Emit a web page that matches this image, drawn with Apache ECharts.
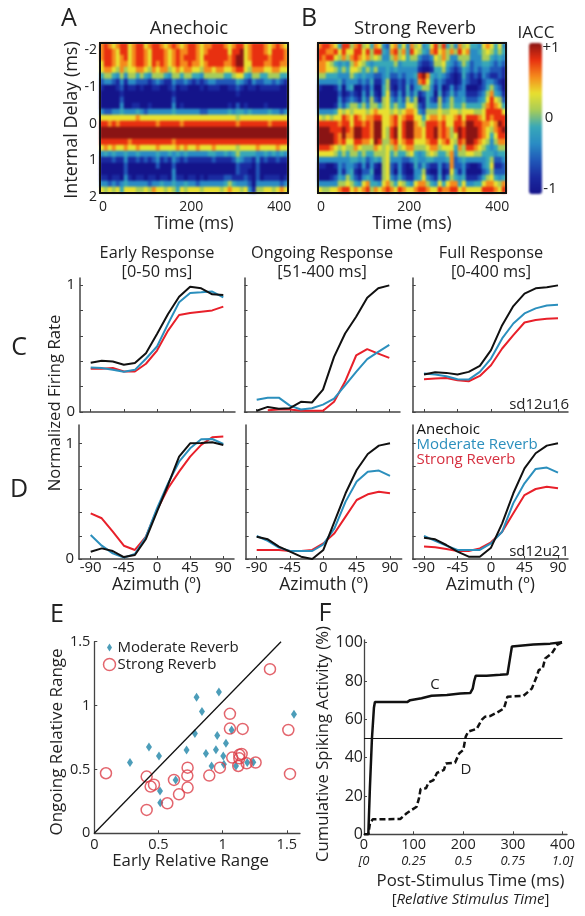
<!DOCTYPE html>
<html><head><meta charset="utf-8">
<script src="https://cdn.jsdelivr.net/npm/echarts@6/dist/echarts.min.js"></script>
<style>
html,body{margin:0;padding:0;background:#fff;width:585px;height:916px;overflow:hidden}
#heat,#main{position:absolute;left:0;top:0;width:585px;height:916px}
#heat{filter:blur(0.9px)}
</style></head><body>
<div id="heat"></div><div id="main"></div>
<script>
// ---------- DATA ----------
// Anechoic heat map: one string per internal-delay row (top to bottom), one digit per time bin; 0 = -1 ... 9 = +1
const anechoicRows = [
"7876788678 8678876787 6788767788 8767886788 8767876",
"7887688678 8768887678 7788767888 8868896788 8768887",
"7887678678 8768887678 7888768888 8878996788 8878887",
"6887677678 8768787678 7787767888 8778996688 8778877",
"6776575667 7657677567 6776657767 7667886577 7667766",
"4554353554 5435554355 4554435555 5445664355 4455544",
"2332131332 2212321132 2321212332 2222432132 2332321",
"1000120110 1001100120 1100010111 0011210110 1111100",
"0000010000 0000000010 0000000000 0000100000 0000000",
"0000020000 0000000020 0000000000 0000000000 0000000",
"0000030011 0010000030 1000000000 0010201000 0100000",
"3223343334 3233333343 3333322333 3343443433 3343323",
"6666666667 6666666666 6666666666 6666566666 6666666",
"8878788888 8888788888 7888888888 8888788888 8878888",
"9999999999 9999999999 9999999999 9999999999 9999999",
"9999999999 9999999999 9999999999 9999999999 9999999",
"8888888788 8888888878 8888888888 8888888888 8888888",
"6767667667 6666766667 6766766676 6666566667 6666766",
"3434334334 3333433434 3433333443 3434544443 3434343",
"1112113112 1212312132 1211111121 1112432213 1211211",
"0000002000 0000200020 0000000000 0000211102 0000000",
"0000002000 0000000030 0000000000 0000211002 0000000",
"1101103101 1011011031 1011010111 1221112102 0111101",
"3323234333 3323343343 3433233333 3454333203 3333323",
"6565646665 5657665654 6566656666 5676656315 5665676"
];
// Strong-reverb heat map: one string per time bin (left to right), one digit per delay row (top to bottom)
const strongReverbColumns = [
"78877 53100 03689 99863 10036","88777 53000 03589 99863 10035","87866 43000 03689 99863 00035",
"77856 43000 03588 99763 00136","68645 43100 14688 88653 10236","46534 34323 46678 77543 33457",
"88745 32001 25889 98653 21358","86534 33312 46788 76543 33568","56756 53423 55667 76554 34456",
"78876 43012 56889 98754 21247","88765 32001 46789 98643 10136","56654 43234 56678 87554 32367",
"68745 32112 35788 87542 12478","45534 34345 56777 76543 34345","78645 21012 57899 99754 10147",
"68543 21001 46899 98653 00136","34343 33445 56666 65555 55567","23344 45566 66665 55666 66678",
"67543 21123 45778 87543 22357","78754 21012 56889 98753 10246","45533 32234 45666 66543 33468",
"67643 21112 36788 87642 11257","34443 33445 67899 98752 00146","78543 32123 67899 98763 10136",
"56543 43345 56677 76544 43367","65321 87410 23667 76533 23478","34210 98521 12456 66543 45678",
"43210 76544 45688 87654 21357","67321 44332 35788 88764 10246","88654 32101 35789 98753 10136",
"56554 43345 56677 76543 33468","87765 32012 35788 87643 10147","45543 21123 45667 78654 21367",
"57332 11345 56665 56677 76578","35321 00123 46788 65432 23478","78532 11233 45889 98753 21346",
"56554 43334 56678 87554 33467","67543 22012 46899 99863 10136","43322 11012 46899 99863 00136",
"43333 21012 45889 98753 00146","34332 10123 45788 87653 10246","65543 32234 56677 76543 32468",
"76543 23456 78876 65444 43578","65432 13578 88765 43345 65678","44322 12346 78877 65432 12467",
"65432 21235 68898 87542 12356","34321 10012 46889 87543 22478"
];
const iaccColors = ['#14148a','#1a2aa0','#2058b8','#2a8cc4','#38a8b8','#a8cc58','#e8e030','#f58a1c','#e83010','#8a1414'];

const azimuth = [-90,-75,-60,-45,-30,-15,0,15,30,45,60,75,90];
const c1Anechoic = [.387,.403,.398,.372,.385,.463,.615,.772,.908,.987,.974,.927,.921];
const c1Moderate = [.351,.346,.332,.317,.332,.419,.516,.694,.864,.937,.942,.948,.903];
const c1Strong   = [.34,.34,.346,.319,.319,.38,.484,.641,.764,.78,.79,.80,.83];
const c2Anechoic = [.01,.04,.025,.03,.08,.075,.176,.434,.618,.75,.90,.974,.997];
const c2Moderate = [.097,.113,.113,.05,.02,.03,.058,.105,.21,.316,.416,.474,.529];
const c2Strong   = [null,.013,.02,.02,.01,.01,.01,.08,.24,.445,.495,.46,.426];
const c3Anechoic = [.295,.313,.308,.295,.316,.363,.487,.684,.834,.932,.974,.982,.997];
const c3Moderate = [.303,.295,.282,.258,.255,.316,.421,.579,.697,.776,.816,.839,.845];
const c3Strong   = [.258,.263,.268,.25,.242,.284,.368,.5,.605,.705,.724,.734,.739];
const d1Anechoic = [.063,.092,.069,.017,.035,.173,.41,.64,.885,1.0,1.003,1.009,.986];
const d1Moderate = [.207,.115,.049,.012,.043,.193,.438,.654,.841,.957,1.035,1.037,.994];
const d1Strong   = [.395,.352,.236,.115,.078,.193,.424,.611,.755,.885,.986,1.052,1.058];
const d2Anechoic = [.193,.17,.107,.063,.02,0,.078,.323,.568,.769,.908,.98,1.0];
const d2Moderate = [.199,.156,.098,.069,.069,.069,.127,.265,.496,.669,.755,.764,.718];
const d2Strong   = [.078,.078,.078,.069,.069,.078,.135,.222,.366,.51,.559,.582,.568];
const d3Anechoic = [.184,.17,.121,.063,.02,.02,.098,.308,.568,.784,.914,.98,1.0];
const d3Moderate = [.2,.156,.115,.078,.078,.078,.135,.236,.483,.654,.778,.79,.746];
const d3Strong   = [.107,.101,.086,.069,.069,.092,.144,.236,.395,.553,.605,.625,.611];

const eModerate = [[.278,.554],[.426,.676],[.504,.606],[.512,.332],[.514,.24],[.634,.418],[.719,.653],[.784,.781],[.797,1.065],[.839,.953],[.87,.624],[.914,.527],[.948,.655],[.958,.765],[.971,1.107],[1.005,.606],[1.01,.54],[1.026,.705],[1.07,.809],[1.104,.527],[1.192,.554],[1.239,.556],[1.556,.932]];
const eStrong = [[.091,.47],[.408,.444],[.439,.366],[.465,.381],[.408,.183],[.569,.235],[.621,.418],[.66,.305],[.727,.514],[.725,.452],[.727,.358],[.896,.452],[.979,.514],[1.057,.935],[1.057,.82],[1.075,.593],[1.156,.817],[1.122,.527],[1.13,.614],[1.148,.621],[1.13,.587],[1.187,.548],[1.257,.554],[1.369,1.285],[1.512,.809],[1.525,.465]];
const eUnity = [[0,0],[1.455,1.5]];

const fC = [[0,0],[8.7,0],[12,25],[16,50],[20,66],[22,69],[87,69],[93,70],[116,71],[136,72.3],[167,72.7],[194,73.5],[214,73.7],[219,76],[222,80],[225,82.7],[247,82.8],[274,83.2],[289,83.5],[293,90],[298,98],[301,99],[341,99],[375,99.5],[399,100.2]];
const fD = [[0,0],[8.7,0],[12,5.7],[17.5,7.8],[73,8],[86,11],[106,14.4],[111,19],[114,23.6],[125,24],[130,27],[140,28.3],[147,32],[161,33.6],[165,37],[183.5,37.4],[192,42.3],[200,44],[205,51],[210,53.6],[227,55],[237,59.7],[244,61.4],[254,61.7],[268,63.5],[282,65.7],[289,71.8],[321,72.2],[338,76],[348,82.3],[352,85.7],[360,86.6],[365,91.8],[378.5,94.4],[389,98.8],[399,100.2]];
const fHalf = [[0,50],[400,50]];

const azimuthTicks = [-90,-45,0,45,90];
const rateTicks = [0,.2,.4,.6,.8,1];
const rateLabels = [0,1];
const delayTicks = [-2,-1,0,1,2];
const timeTicks = [0,200,400];
const rangeTicks = [0,.5,1,1.5];
const fTimeTicks = [0,100,200,300,400];
const fRelTicks = ['[0','0.25','0.5','0.75','1.0]'];
const fPctTicks = [0,20,40,60,80,100];
const iaccLabels = ['+1','0','-1'];

// ---------- STYLE ----------
const FONT = '"Open Sans", sans-serif', INK = '#222', AXIS = '#444';
const BLACK = '#111', BLUE = '#2b8fbd', RED = '#e8202a';

// ---------- HEAT LAYER ----------
const rowCells = rows => {
  const out = [];
  rows.forEach((r, y) => r.replace(/ /g, '').split('').forEach((d, x) => out.push([x, y, -1 + 2 * (+d) / 9])));
  return out;
};
const colCells = cols => {
  const out = [];
  cols.forEach((c, x) => c.replace(/ /g, '').split('').forEach((d, y) => out.push([x, y, -1 + 2 * (+d) / 9])));
  return out;
};
const cats = n => Array.from({length:n}, (_, i) => i);
const heatPanels = [
  {left:100, cells:rowCells(anechoicRows)},
  {left:318, cells:colCells(strongReverbColumns)}
];
const heat = echarts.init(document.getElementById('heat'), null, {renderer:'canvas'});
heat.setOption({
  animation:false,
  grid: heatPanels.map(p => ({left:p.left, top:43, width:188, height:150})),
  xAxis: heatPanels.map((p,i) => ({type:'category', gridIndex:i, show:false, data:cats(47)})),
  yAxis: heatPanels.map((p,i) => ({type:'category', gridIndex:i, show:false, inverse:true, data:cats(25)})),
  visualMap: {type:'continuous', min:-1, max:1, seriesIndex:[0,1], left:529, top:43, itemWidth:13, itemHeight:151, padding:0,
    calculable:false, showLabel:false, text:null, inRange:{color:iaccColors}},
  series: heatPanels.map((p,i) => ({type:'heatmap', xAxisIndex:i, yAxisIndex:i, data:p.cells, itemStyle:{borderWidth:0}, emphasis:{disabled:true}}))
});

// ---------- MAIN LAYER ----------
const grid=[], xAxis=[], yAxis=[], series=[];
const base = (size=14) => ({color:INK, fontFamily:FONT, fontSize:size});
function addPanel(g, x, y){
  grid.push(g); const i = grid.length-1;
  xAxis.push(Object.assign({type:'value', gridIndex:i, splitLine:{show:false}}, x));
  yAxis.push(Object.assign({type:'value', gridIndex:i, splitLine:{show:false}}, y));
  return i;
}
const NOAXIS = {show:false, min:0, max:1};
function heatFrame(left, name){
  return addPanel(
    {left, top:43, width:188, height:150, show:true, borderColor:'#111', borderWidth:2, backgroundColor:'transparent'},
    {min:-7, max:420, axisLine:{show:false}, axisTick:{show:false},
     axisLabel:Object.assign(base(14),{margin:7, customValues:timeTicks, hideOverlap:false}),
     name, nameLocation:'middle', nameGap:17, nameTextStyle:base(17.5)},
    NOAXIS);
}
heatFrame(100,'Time (ms)');
heatFrame(318,'Time (ms)');
addPanel({left:100, top:43, width:188, height:154},
  {show:false, min:0, max:1},
  {min:-2.2, max:2, inverse:true, axisLine:{show:false}, axisTick:{show:false},
   axisLabel:Object.assign(base(14),{margin:3, customValues:delayTicks}),
   name:'Internal Delay (ms)', nameLocation:'middle', nameGap:19, nameTextStyle:base(18)});

function linePanel(left, right, top, bottom, zero, one, xm90, x90, showX, sets){
  const ppd = (x90-xm90)/180, ppu = (zero-one);
  const i = addPanel({left, top, width:right-left, height:bottom-top},
    {min:-90-(xm90-left)/ppd, max:90+(right-x90)/ppd,
     axisLine:{show:true, onZero:false, lineStyle:{color:AXIS, width:1.5}},
     axisTick:{show:true, inside:true, length:3, lineStyle:{color:AXIS}, customValues:azimuthTicks},
     axisLabel: showX ? Object.assign(base(15),{margin:1, customValues:azimuthTicks}) : {show:false},
     name: showX ? 'Azimuth (º)' : '', nameLocation:'middle', nameGap:14, nameTextStyle:base(17.5)},
    {min:0, max:(zero-top)/ppu,
     axisLine:{show:true, onZero:false, lineStyle:{color:AXIS, width:1.5}},
     axisTick:{show:true, inside:true, length:3, lineStyle:{color:AXIS}, customValues:rateTicks},
     axisLabel: Object.assign(base(15),{margin:5, customValues:left<100?rateLabels:[], show:left<100})});
  [[sets[2],RED],[sets[1],BLUE],[sets[0],BLACK]].forEach(([v,c]) => series.push({
    type:'line', xAxisIndex:i, yAxisIndex:i, showSymbol:false, silent:true, connectNulls:false,
    data:azimuth.map((a,k)=>[a,v[k]]), lineStyle:{color:c, width:2}, clip:false
  }));
}
linePanel(80,235,278,412,412,285,90.7,223.3,false,[c1Anechoic,c1Moderate,c1Strong]);
linePanel(244.5,400,278,412,412,285,256.7,389.3,false,[c2Anechoic,c2Moderate,c2Strong]);
linePanel(412.7,568,278,412,412,285,424,558,false,[c3Anechoic,c3Moderate,c3Strong]);
linePanel(79,234,425,559,559,443.3,90.7,223.3,true,[d1Anechoic,d1Moderate,d1Strong]);
linePanel(245.7,401.7,425,559,559,443.3,256.7,390,true,[d2Anechoic,d2Moderate,d2Strong]);
linePanel(412.7,568,425,559,559,443.3,424,558,true,[d3Anechoic,d3Moderate,d3Strong]);

// Panel E
const eI = addPanel({left:94.3, top:641.7, width:205.7, height:191.6},
  {min:0, max:1.603, axisLine:{show:true, onZero:false, lineStyle:{color:AXIS, width:1.3}},
   axisTick:{show:true, inside:true, length:3, lineStyle:{color:AXIS}, customValues:rangeTicks},
   axisLabel:Object.assign(base(14.5),{margin:4, customValues:rangeTicks}),
   name:'Early Relative Range', nameLocation:'middle', nameGap:16,
   nameTextStyle:Object.assign(base(16.8),{padding:[0,13,0,0]})},
  {min:0, max:1.5, axisLine:{show:true, onZero:false, lineStyle:{color:AXIS, width:1.3}},
   axisTick:{show:true, inside:true, length:3, lineStyle:{color:AXIS}, customValues:rangeTicks},
   axisLabel:Object.assign(base(14.5),{margin:4, customValues:rangeTicks}),
   name:'Ongoing Relative Range', nameLocation:'middle', nameGap:29,
   nameTextStyle:Object.assign(base(17),{padding:[0,9,0,0]})});
series.push({type:'line', xAxisIndex:eI, yAxisIndex:eI, showSymbol:false, silent:true, data:eUnity, lineStyle:{color:BLACK, width:1.3}});
series.push({type:'scatter', name:'Moderate Reverb', xAxisIndex:eI, yAxisIndex:eI, symbol:'diamond', symbolSize:[6,9], data:eModerate, itemStyle:{color:'#1f85a8'}});
series.push({type:'scatter', name:'Strong Reverb', xAxisIndex:eI, yAxisIndex:eI, symbol:'circle', symbolSize:11, data:eStrong, itemStyle:{color:'none', borderColor:'#dc3f48', borderWidth:1.5}});

// Panel F
const fI = addPanel({left:364, top:639.8, width:203, height:194.5},
  {min:0, max:409, axisLine:{show:true, onZero:false, lineStyle:{color:AXIS, width:1.3}},
   axisTick:{show:true, inside:true, length:3, lineStyle:{color:AXIS}, customValues:fTimeTicks},
   axisLabel:Object.assign(base(14.5),{margin:3, customValues:fTimeTicks, lineHeight:16,
     formatter:v=>v+'\n{i|'+fRelTicks[fTimeTicks.indexOf(v)]+'}',
     rich:{i:{fontStyle:'italic', fontSize:13, lineHeight:16, color:INK, fontFamily:FONT}}}),
   name:'Post-Stimulus Time (ms)\n{n|[}{i|Relative Stimulus Time}{n|]}', nameLocation:'middle', nameGap:38,
   nameTextStyle:Object.assign(base(16.8),{lineHeight:18, padding:[0,0,0,10], rich:{
     n:{fontSize:15, lineHeight:18, color:INK, fontFamily:FONT},
     i:{fontSize:15, lineHeight:18, fontStyle:'italic', color:INK, fontFamily:FONT}}})},
  {min:0, max:101.5, axisLine:{show:true, onZero:false, lineStyle:{color:AXIS, width:1.3}},
   axisTick:{show:true, inside:true, length:3, lineStyle:{color:AXIS}, customValues:fPctTicks},
   axisLabel:Object.assign(base(16),{margin:1, customValues:fPctTicks}),
   name:'Cumulative Spiking Activity (%)', nameLocation:'middle', nameGap:21,
   nameTextStyle:Object.assign(base(16.7),{padding:[0,14,0,0]})});
series.push({type:'line', xAxisIndex:fI, yAxisIndex:fI, showSymbol:false, silent:true, data:fHalf, lineStyle:{color:BLACK, width:1}});
series.push({type:'line', xAxisIndex:fI, yAxisIndex:fI, showSymbol:false, silent:true, data:fC, lineStyle:{color:BLACK, width:2.5}});
series.push({type:'line', xAxisIndex:fI, yAxisIndex:fI, showSymbol:false, silent:true, data:fD, lineStyle:{color:BLACK, width:2.5, type:[6,3]}});

const t = (x,y,text,size,extra) => ({type:'text', x, y, silent:true,
  style:Object.assign({text, fill:INK, font:size+'px '+FONT, textAlign:'center', textVerticalAlign:'middle'}, extra||{})});
const titleAt = (x,top,text,size) => ({text, left:x, top, textAlign:'center', padding:0,
  textStyle:Object.assign(base(size),{fontWeight:'normal', lineHeight:19})});

const main = echarts.init(document.getElementById('main'), null, {renderer:'canvas'});
main.setOption({
  animation:false, backgroundColor:'transparent',
  title:[
    titleAt(189,19,'Anechoic',18.5), titleAt(415,19,'Strong Reverb',18.5),
    titleAt(157,244,'Early Response\n[0-50 ms]',16.3),
    titleAt(322,244,'Ongoing Response\n[51-400 ms]',16.3),
    titleAt(491,244,'Full Response\n[0-400 ms]',16.3)
  ],
  legend:{left:101, top:640, orient:'vertical', itemWidth:12, itemHeight:12, itemGap:1, padding:0,
    textStyle:Object.assign(base(15),{padding:[0,0,0,-3]}),
    data:[
      {name:'Moderate Reverb', icon:'path://M0 0ZM12 12ZM6 2L8.5 6L6 10L3.5 6Z', itemStyle:{color:'#1f85a8', borderWidth:0}},
      {name:'Strong Reverb', icon:'circle', itemStyle:{color:'none', borderColor:'#dc3f48', borderWidth:1.5}}
    ]},
  grid, xAxis, yAxis, series,
  graphic:[
    t(69,19,'A',25), t(309,19,'B',25), t(19,348,'C',25), t(19,490,'D',25), t(57,615,'E',25), t(325,614,'F',25),
    t(536,33,'IACC',17),
    t(551,48,iaccLabels[0],15), t(549,118,iaccLabels[1],15), t(550,189,iaccLabels[2],15),
    Object.assign(t(55,403,'Normalized Firing Rate',16.7,{}),{rotation:Math.PI/2}),
    t(569,405,'sd12u16',15,{textAlign:'right'}), t(569,552,'sd12u21',15,{textAlign:'right'}),
    t(416.5,430,'Anechoic',15,{textAlign:'left', fill:'#111'}),
    t(416.5,445,'Moderate Reverb',15,{textAlign:'left', fill:BLUE}),
    t(416.5,460,'Strong Reverb',15,{textAlign:'left', fill:'#d63040'}),
    t(435,685,'C',15), t(466,770,'D',15)
  ]
});
</script></body></html>
